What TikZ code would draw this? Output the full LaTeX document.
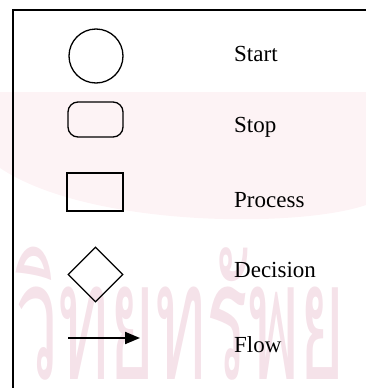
\documentclass[tikz,border=0pt]{standalone}
\usepackage{fontspec}
\setmainfont{Liberation Serif}
\newfontfamily\thaifont[Script=Thai]{Loma}
\usetikzlibrary{shapes.geometric,arrows.meta}

\definecolor{wmpink}{RGB}{245,226,233}
\definecolor{bandpink}{RGB}{253,243,245}

\tikzset{
  frameline/.style={line width=1.6pt, black},
  symbol/.style={draw, line width=1.3pt, inner sep=0pt},
  legendtext/.style={anchor=base west, inner sep=0pt,
    font=\fontsize{23}{23}\selectfont},
  flowline/.style={line width=2pt, -{Triangle[length=15pt,width=12pt]}}
}

\begin{document}
\begin{tikzpicture}[x=1pt,y=-1pt]
  \useasboundingbox (0,0) rectangle (366,388);
  \begin{scope}
    \clip (0,0) rectangle (366,388);
    % faint tinted band and seal lettering of the page
    \fill[bandpink] (0,92) -- (366,92) -- (366,205)
      .. controls (300,228) and (90,228) .. (0,168) -- cycle;
    \node[anchor=base west, inner sep=0pt, text=wmpink,
          font=\thaifont\fontsize{165}{165}\selectfont] (seal) at (15,379)
          {\scalebox{0.47}[1]{วิทยทรัพย}};
  \end{scope}

  % table frame
  \draw[frameline] (13,388) -- (13,10) -- (366,10);

  % symbols
  \node[symbol, circle, minimum size=54pt] (startsym) at (96,56) {};
  \node[symbol, rectangle, rounded corners=10pt, minimum width=55pt,
        minimum height=35pt] (stopsym) at (95.5,119.5) {};
  \node[symbol, rectangle, minimum width=56pt, minimum height=38pt]
        (procsym) at (95,192) {};
  \node[symbol, diamond, minimum width=55pt, minimum height=55pt]
        (decsym) at (95.5,274.5) {};
  \coordinate (flowfrom) at (68,338);
  \coordinate (flowto) at (140,338);
  \draw[flowline] (flowfrom) -- (flowto);

  % labels
  \node[legendtext] (startlbl) at (234,61) {Start};
  \node[legendtext] (stoplbl) at (234,132) {Stop};
  \node[legendtext] (proclbl) at (234,207) {Process};
  \node[legendtext] (declbl) at (234,277) {Decision};
  \node[legendtext] (flowlbl) at (234,352) {Flow};
\end{tikzpicture}
\end{document}
